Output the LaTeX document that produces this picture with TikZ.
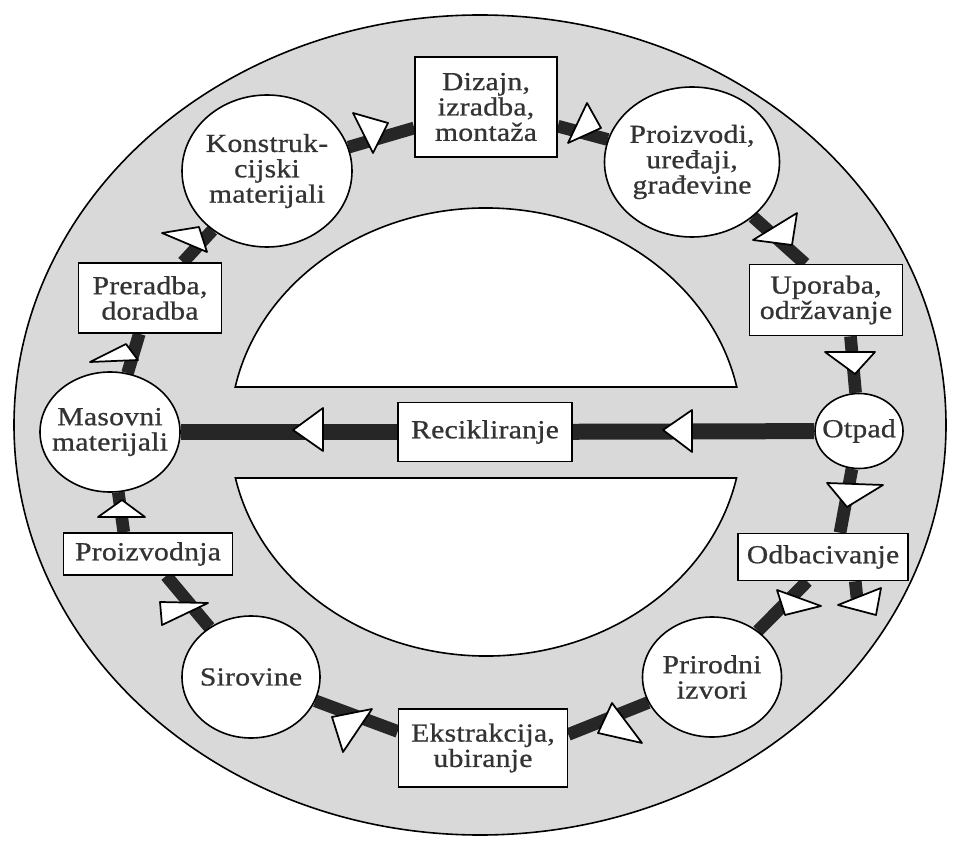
\documentclass[tikz,border=0pt]{standalone}
\usepackage{fontspec}
\setmainfont{Liberation Serif}[FakeStretch=1.14, FakeBold=0.8, LetterSpace=1]
\usetikzlibrary{shapes.geometric,calc}
\pgfdeclarelayer{back}
\pgfdeclarelayer{bg}
\pgfsetlayers{back,bg,main}
\tikzset{
  shapebase/.style={draw=black, line width=1.2pt, fill=white, inner sep=0pt},
  oval/.style 2 args={shapebase, ellipse, minimum width=#1*0.75pt, minimum height=#2*0.75pt},
  box/.style 2 args={shapebase, rectangle, minimum width=#1*0.75pt, minimum height=#2*0.75pt, align=center, text=black!80, font=\fontsize{19.5}{19}\selectfont},
  lbl/.style={inner sep=0pt, align=center, text=black!80, font=\fontsize{19.5}{19}\selectfont},
  conn/.style={line width=9.5pt, draw=black!85},
  rconn/.style={line width=12pt, draw=black!85},
  tri/.style={draw=black, line width=1.3pt, fill=white, line join=round},
  ring/.style={draw=black, line width=1.2pt},
}
\begin{document}
\begin{tikzpicture}[x=0.75pt,y=-0.75pt]
\useasboundingbox (0,0) rectangle (953,841);
\begin{pgfonlayer}{back}
  \fill[white] (0,0) rectangle (953,841);
  \draw[ring, fill=black!15] (480,425) ellipse [x radius=466, y radius=410];
  \draw[ring, fill=white] (235.2,387) arc[start angle=191.59, end angle=348.41, x radius=256, y radius=224] -- cycle;
  \draw[ring, fill=white] (736.5,478) arc[start angle=11.85, end angle=168.15, x radius=256, y radius=224] -- cycle;
\end{pgfonlayer}

% nodes
\node[oval={170}{152}] (K) at (267,171) {};
\node[lbl] (Kt) at (K) {Konstruk-\\cijski\\materijali};
\node[box={142}{100}] (D) at (486,107) {Dizajn,\\izradba,\\montaža};
\node[oval={175}{150}] (P) at (692,162) {};
\node[lbl] (Pt) at (P) {Proizvodi,\\uređaji,\\građevine};
\node[box={153}{71}] (U) at (826,300) {Uporaba,\\održavanje};
\node[oval={88}{75}] (O) at (859,431) {};
\node[lbl] (Ot) at (O) {Otpad};
\node[box={170}{47}] (B) at (823,557) {Odbacivanje};
\node[oval={139}{120}] (N) at (712,677) {};
\node[lbl] (Nt) at (N) {Prirodni\\izvori};
\node[box={169}{78}] (E) at (483,748) {Ekstrakcija,\\ubiranje};
\node[oval={138}{122}] (S) at (251,677) {};
\node[lbl] (St) at (S) {Sirovine};
\node[box={169}{42}] (Pr) at (148,554) {Proizvodnja};
\node[oval={140}{120}] (M) at (110,432) {};
\node[lbl] (Mt) at (M) {Masovni\\materijali};
\node[box={143}{70}] (R) at (150,298) {Preradba,\\doradba};
\node[box={174}{59}] (C) at (485,432) {Recikliranje};
\coordinate (stub) at (857,598);

% connectors
\begin{pgfonlayer}{bg}
  \draw[conn] (M) -- (R);
  \draw[conn] (R) -- (K);
  \draw[conn] (K) -- (D);
  \draw[conn] (D) -- (P);
  \draw[conn] (P) -- (U.120);
  \draw[conn] (U.-56) -- (O);
  \draw[conn] (O) -- (B.55);
  \draw[conn] (B.237) -- (N);
  \draw[conn] (B.-37) -- (stub);
  \draw[conn] (N) -- (E.9);
  \draw[conn] (E.169) -- (S);
  \draw[conn] (S) -- (Pr);
  \draw[conn] (Pr.138) -- (M);
  \draw[rconn] (O) -- (C);
  \draw[rconn] (C) -- (M);
\end{pgfonlayer}

% arrowhead triangles
\draw[tri] (90,362) -- (138,360) -- (126,344) -- cycle;
\draw[tri] (98,517) -- (145,517) -- (122,500) -- cycle;
\draw[tri] (162,233) -- (199,227) -- (207,252) -- cycle;
\draw[tri] (353,113) -- (388,123) -- (373,153) -- cycle;
\draw[tri] (587,103) -- (568,143) -- (601,128) -- cycle;
\draw[tri] (753,240) -- (797,213) -- (792,245) -- cycle;
\draw[tri] (825,352) -- (875,352) -- (855,374) -- cycle;
\draw[tri] (827,483) -- (883,485) -- (847,507) -- cycle;
\draw[tri] (777,590) -- (785,615) -- (821,606) -- cycle;
\draw[tri] (838,605) -- (881,588) -- (876,615) -- cycle;
\draw[tri] (612,703) -- (598,733) -- (642,743) -- cycle;
\draw[tri] (332,717) -- (372,709) -- (343,752) -- cycle;
\draw[tri] (160,602) -- (208,603) -- (162,625) -- cycle;
\draw[tri] (663,430) -- (692,410) -- (692,452) -- cycle;
\draw[tri] (293,430) -- (323,408) -- (323,451) -- cycle;
\end{tikzpicture}
\end{document}
